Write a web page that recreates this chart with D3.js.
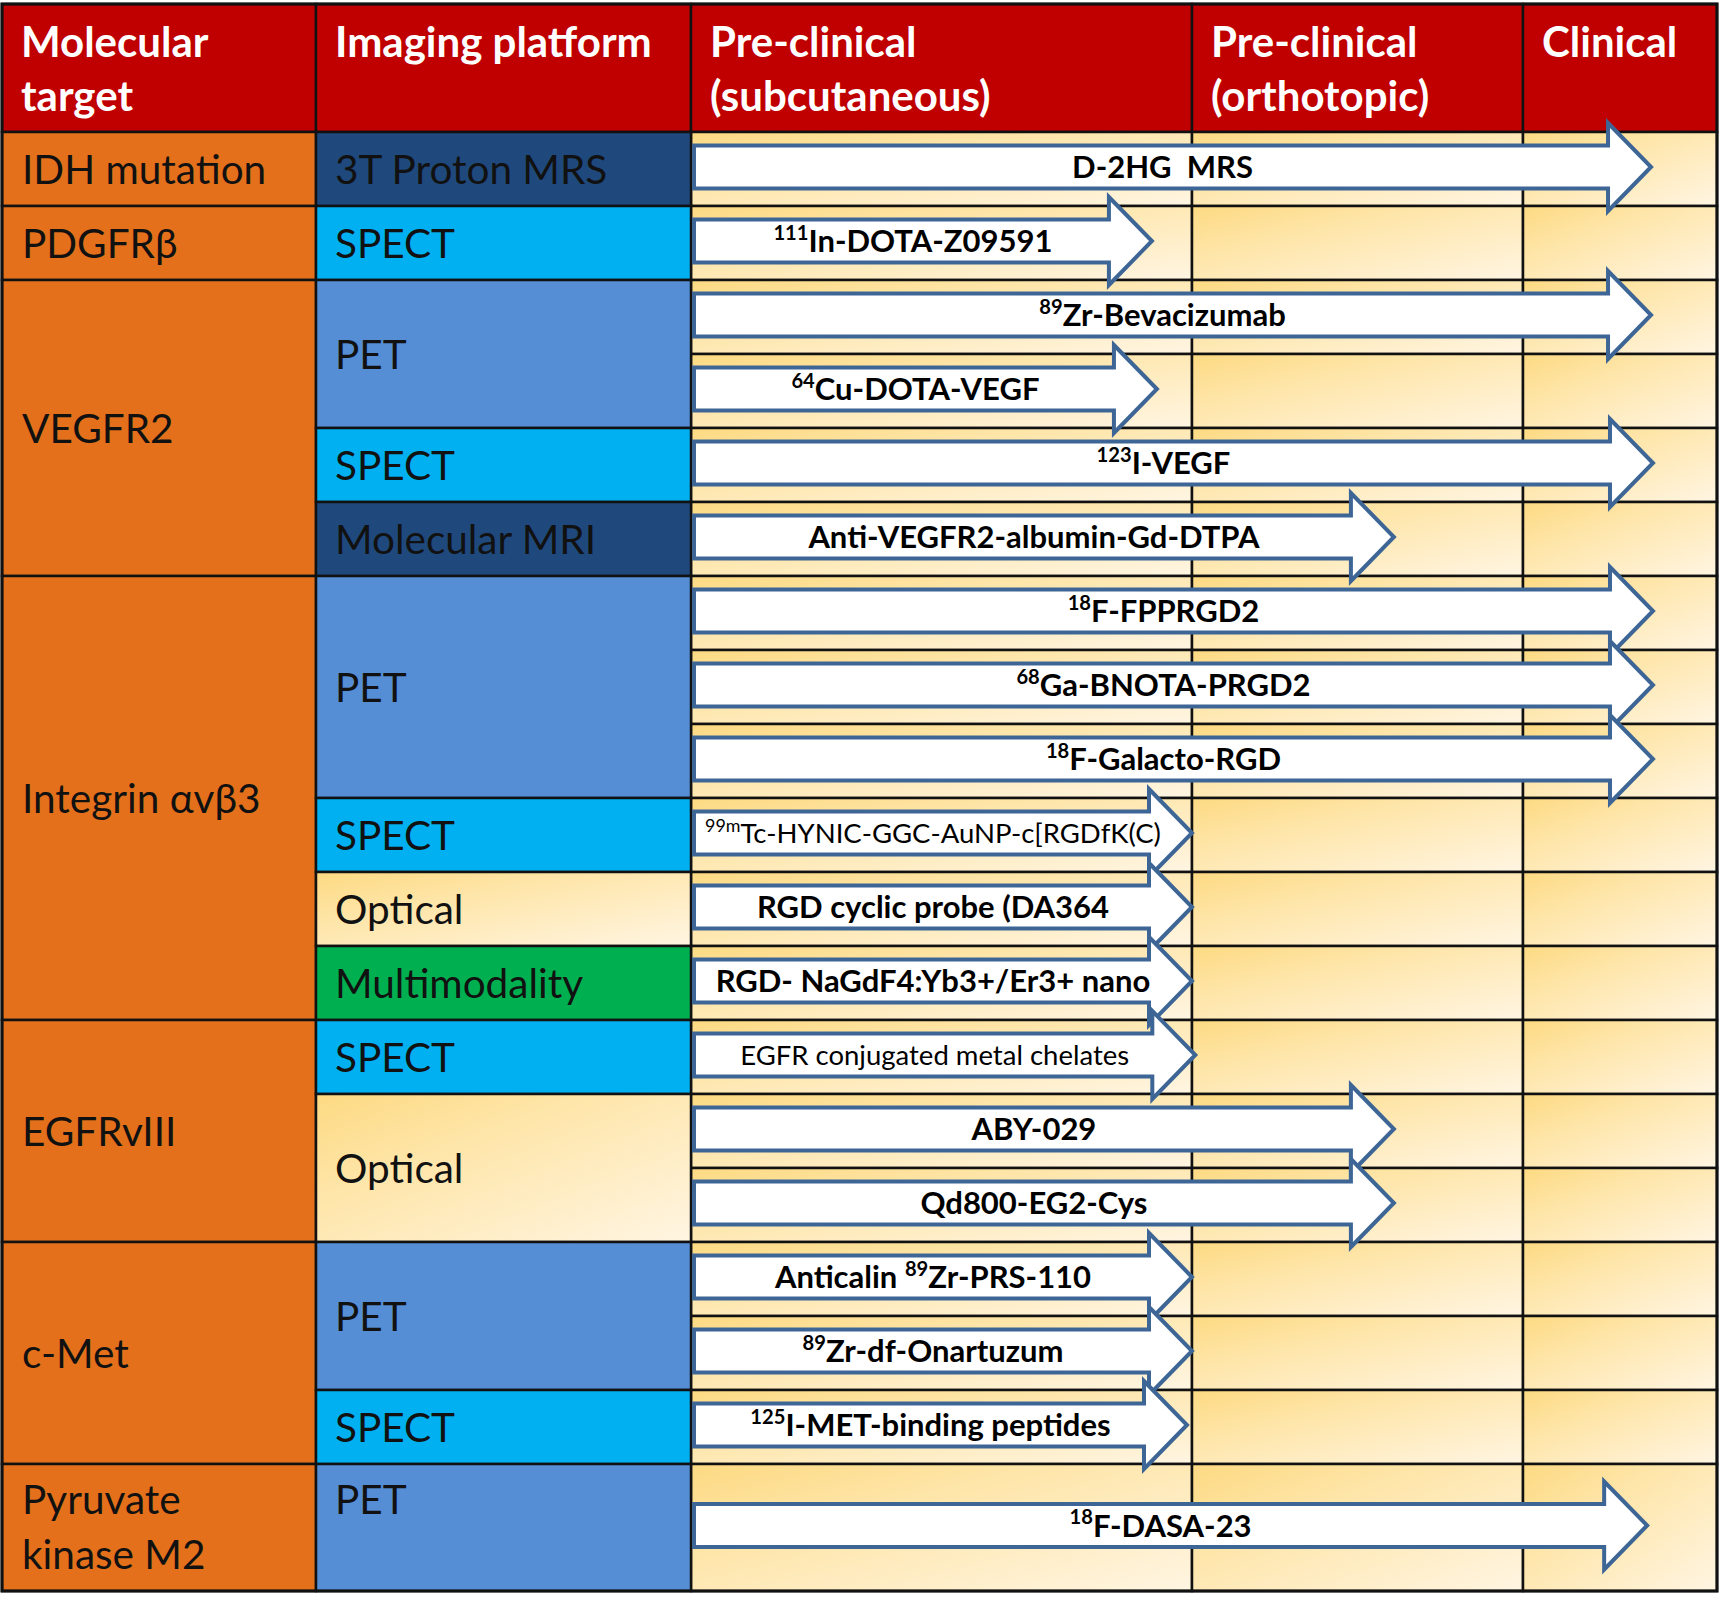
<!DOCTYPE html>
<html>
<head>
<meta charset="utf-8">
<script src="https://cdn.jsdelivr.net/npm/d3@7"></script>
<style>
  body { margin: 0; background: #fff; }
  svg text { font-family: Lato, "Open Sans", sans-serif; }
</style>
</head>
<body>
<div id="chart"></div>
<script>
// column headers, one entry per column, one string per line
const headers = [
  ["Molecular", "target"],
  ["Imaging platform"],
  ["Pre-clinical", "(subcutaneous)"],
  ["Pre-clinical", "(orthotopic)"],
  ["Clinical"]
]

const targets = ["IDH mutation", "PDGFRβ", "VEGFR2", "Integrin αvβ3", "EGFRvIII", "c-Met", "Pyruvate kinase M2"]

const platforms = ["3T Proton MRS", "SPECT", "PET", "SPECT", "Molecular MRI", "PET", "SPECT",
  "Optical", "Multimodality", "SPECT", "Optical", "PET", "SPECT", "PET"]
const platformTarget = [0, 1, 2, 2, 2, 3, 3, 3, 3, 4, 4, 5, 5, 6]

// {..} marks a superscript
const probes = [
  "D-2HG  MRS",
  "{111}In-DOTA-Z09591",
  "{89}Zr-Bevacizumab",
  "{64}Cu-DOTA-VEGF",
  "{123}I-VEGF",
  "Anti-VEGFR2-albumin-Gd-DTPA",
  "{18}F-FPPRGD2",
  "{68}Ga-BNOTA-PRGD2",
  "{18}F-Galacto-RGD",
  "{99m}Tc-HYNIC-GGC-AuNP-c[RGDfK(C)",
  "RGD cyclic probe (DA364",
  "RGD- NaGdF4:Yb3+/Er3+ nano",
  "EGFR conjugated metal chelates",
  "ABY-029",
  "Qd800-EG2-Cys",
  "Anticalin {89}Zr-PRS-110",
  "{89}Zr-df-Onartuzum",
  "{125}I-MET-binding peptides",
  "{18}F-DASA-23"
]
const probePlatform = [0, 1, 2, 2, 3, 4, 5, 5, 5, 6, 7, 8, 9, 10, 10, 11, 11, 12, 13]
// how far each arrow reaches: 0-1 subcutaneous, 1-2 orthotopic, 2-3 clinical
const probeReach = [2.66, 0.92, 2.66, 0.93, 2.67, 1.61, 2.67, 2.67, 2.67, 1.0, 1.0, 1.0, 1.01, 1.61, 1.61, 1.0, 1.0, 0.99, 2.64]


const W = 1720, H = 1610
const colX = [2, 316, 691, 1192, 1523, 1717]
const tableTop = 4, headBottom = 132

const platformColor = {
  "3T Proton MRS": "#1f497d",
  "Molecular MRI": "#1f497d",
  "SPECT": "#00b0f0",
  "PET": "#558ed5",
  "Optical": "url(#cellGrad)",
  "Multimodality": "#00b050"
}

const y = d3.scaleLinear()
  .domain([0, probes.length - 1, probes.length])
  .range([headBottom, headBottom + 74 * (probes.length - 1), 1591])

const xStage = d3.scaleLinear()
  .domain([0, 1, 2, 3])
  .range([colX[2], colX[3], colX[4], colX[5]])

const svg = d3.select("#chart").append("svg")
  .attr("width", W)
  .attr("height", H)

const grad = svg.append("defs").append("linearGradient")
  .attr("id", "cellGrad")
  .attr("x1", 0).attr("y1", 0).attr("x2", 1).attr("y2", 1)
grad.append("stop").attr("offset", 0).attr("stop-color", "#fdda82")
grad.append("stop").attr("offset", 0.35).attr("stop-color", "#fee5a8")
grad.append("stop").attr("offset", 1).attr("stop-color", "#fff5e2")

// row spans of platforms and targets, taken from the probe rows
const platformRows = platforms.map((p, i) => d3.extent(probePlatform.map((pp, r) => pp == i ? r : null).filter(r => r != null)))
const targetRows = targets.map((t, i) => {
  const rows = platformRows.filter((pr, pi) => platformTarget[pi] == i)
  return [d3.min(rows, r => r[0]), d3.max(rows, r => r[1])]
})

const lineColor = "#111"
const lineW = 2.5

// header
svg.selectAll(".head")
  .data(headers)
  .enter()
  .append("rect")
  .classed("head", true)
  .attr("x", (d, i) => colX[i])
  .attr("y", tableTop)
  .attr("width", (d, i) => colX[i + 1] - colX[i])
  .attr("height", headBottom - tableTop)
  .attr("fill", "#c00000")
  .attr("stroke", lineColor)
  .attr("stroke-width", lineW)

// stage cells
const stageCells = d3.cross(d3.range(probes.length), [0, 1, 2])
svg.selectAll(".stage")
  .data(stageCells)
  .enter()
  .append("rect")
  .classed("stage", true)
  .attr("x", d => xStage(d[1]))
  .attr("y", d => y(d[0]))
  .attr("width", d => xStage(d[1] + 1) - xStage(d[1]))
  .attr("height", d => y(d[0] + 1) - y(d[0]))
  .attr("fill", "url(#cellGrad)")
  .attr("stroke", lineColor)
  .attr("stroke-width", lineW)

svg.selectAll(".target")
  .data(targetRows)
  .enter()
  .append("rect")
  .classed("target", true)
  .attr("x", colX[0])
  .attr("y", d => y(d[0]))
  .attr("width", colX[1] - colX[0])
  .attr("height", d => y(d[1] + 1) - y(d[0]))
  .attr("fill", "#e4701b")
  .attr("stroke", lineColor)
  .attr("stroke-width", lineW)

svg.selectAll(".platform")
  .data(platformRows)
  .enter()
  .append("rect")
  .classed("platform", true)
  .attr("x", colX[1])
  .attr("y", d => y(d[0]))
  .attr("width", colX[2] - colX[1])
  .attr("height", d => y(d[1] + 1) - y(d[0]))
  .attr("fill", (d, i) => platformColor[platforms[i]])
  .attr("stroke", lineColor)
  .attr("stroke-width", lineW)

svg.append("rect")
  .attr("x", colX[0])
  .attr("y", tableTop)
  .attr("width", colX[5] - colX[0])
  .attr("height", y(probes.length) - tableTop)
  .attr("fill", "none")
  .attr("stroke", lineColor)
  .attr("stroke-width", 3)

// arrows
const shaftHalf = 21.5, headHalf = 44, headLen = 43
const arrowStart = xStage(0) + 3
const arrowY = r => (y(r) + y(r + 1)) / 2 - 2

const arrowPath = (x0, x1, cy) => {
  const p = d3.path()
  p.moveTo(x0, cy - shaftHalf)
  p.lineTo(x1 - headLen, cy - shaftHalf)
  p.lineTo(x1 - headLen, cy - headHalf)
  p.lineTo(x1, cy)
  p.lineTo(x1 - headLen, cy + headHalf)
  p.lineTo(x1 - headLen, cy + shaftHalf)
  p.lineTo(x0, cy + shaftHalf)
  p.closePath()
  return p.toString()
}

const arrows = svg.selectAll(".arrow")
  .data(probes)
  .enter()
  .append("g")
  .classed("arrow", true)

arrows.append("path")
  .attr("d", (d, i) => arrowPath(arrowStart, xStage(probeReach[i]), arrowY(i)))
  .attr("fill", "#fff")
  .attr("stroke", "#3d6696")
  .attr("stroke-width", 4)
  .attr("stroke-linejoin", "miter")

const splitLabel = s => {
  const parts = []
  s.split(/(\{[^}]+\})/).forEach(t => {
    if (!t) return
    if (t[0] == "{") parts.push({ text: t.slice(1, -1), sup: true })
    else parts.push({ text: t, sup: false })
  })
  return parts
}

arrows.each(function (d, i) {
  // the two longest labels are set lighter and smaller, as in the source
  const compact = d.replace(/[{}]/g, "").length >= 29
  const size = compact ? 27.5 : 31
  const text = d3.select(this).append("text")
    .attr("x", (arrowStart + xStage(probeReach[i])) / 2 - 10)
    .attr("y", arrowY(i) + size * 0.36)
    .attr("text-anchor", "middle")
    .attr("font-size", size)
    .attr("font-weight", compact ? 400 : 700)
    .attr("fill", "#000")
    .style("white-space", "pre")
  const supSize = size * 0.65
  splitLabel(d).forEach((part, k, all) => {
    const prevSup = k > 0 && all[k - 1].sup
    text.append("tspan")
      .attr("font-size", part.sup ? supSize : size)
      .attr("dy", part.sup ? -size * 0.4 : (prevSup ? size * 0.4 : 0))
      .text(part.text)
  })
})

// header text
headers.forEach((lines, i) => {
  svg.append("text")
    .attr("x", colX[i] + 19)
    .attr("y", 57)
    .attr("font-size", 42)
    .attr("font-weight", 700)
    .attr("fill", "#fff")
    .selectAll("tspan")
    .data(lines)
    .enter()
    .append("tspan")
    .attr("x", colX[i] + 19)
    .attr("dy", (l, k) => k == 0 ? 0 : 54)
    .text(l => l)
})

const cellSize = 40.5

// target names: the last one wraps on two lines and sits at the top
targets.forEach((t, i) => {
  const [r0, r1] = targetRows[i]
  const lines = t == "Pyruvate kinase M2" ? ["Pyruvate", "kinase M2"] : [t]
  const cy = lines.length > 1 ? y(r0) + 50 - cellSize * 0.36 : (y(r0) + y(r1 + 1)) / 2
  svg.append("text")
    .attr("font-size", cellSize)
    .attr("fill", "#111")
    .selectAll("tspan")
    .data(lines)
    .enter()
    .append("tspan")
    .attr("x", colX[0] + 20)
    .attr("y", (l, k) => cy + cellSize * 0.36 + k * 55)
    .text(l => l)
})

platforms.forEach((p, i) => {
  const [r0, r1] = platformRows[i]
  const atTop = r1 - r0 == 0 && y(r1 + 1) - y(r0) > 100
  const cy = atTop ? y(r0) + 50 - cellSize * 0.36 : (y(r0) + y(r1 + 1)) / 2
  svg.append("text")
    .attr("x", colX[1] + 19)
    .attr("y", cy + cellSize * 0.36)
    .attr("font-size", cellSize)
    .attr("fill", "#111")
    .text(p)
})
</script>
</body>
</html>
